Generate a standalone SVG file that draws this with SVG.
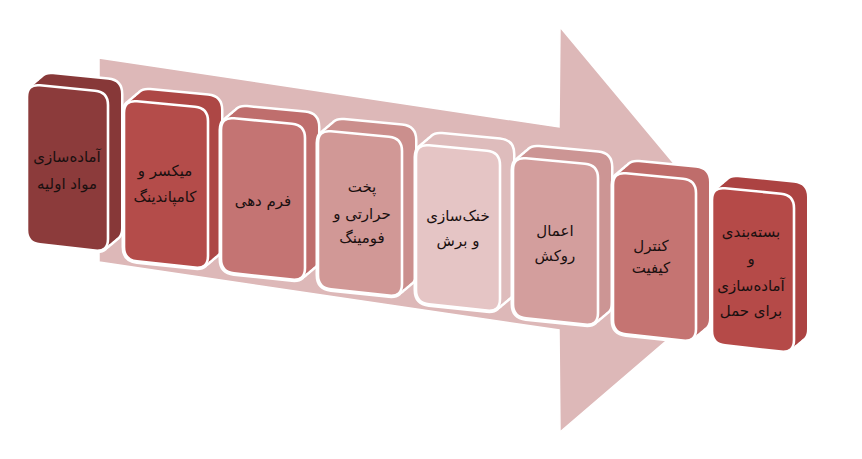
<svg xmlns="http://www.w3.org/2000/svg" xmlns:xlink="http://www.w3.org/1999/xlink" width="862" height="459" viewBox="0 0 862 459">
<style>
.ol{fill:#fff;stroke:#fff;stroke-width:5;stroke-linejoin:round}
.fc{stroke:#fff;stroke-width:2.6}
.lbl{font-family:"DejaVu Sans",sans-serif;font-size:15px;fill:#1a1010;text-anchor:middle;direction:rtl}
</style>
<defs>
<path id="f1" d="M27,97 Q27,84 40,85.3 L95,90.7 Q108,92 108,105 L108,239 Q108,252 95,250.6 L40,244.4 Q27,243 27,230 Z"/>
<path id="f2" d="M124,113 Q124,100 137,101.3 L195,106.7 Q208,108 208,121 L208,256 Q208,269 195,267.6 L137,261.4 Q124,260 124,247 Z"/>
<path id="f3" d="M221,130 Q221,117 234,118.3 L292,123.7 Q305,125 305,138 L305,268 Q305,281 292,279.6 L234,273.4 Q221,272 221,259 Z"/>
<path id="f4" d="M318,143 Q318,130 331,131.3 L389,136.7 Q402,138 402,151 L402,284 Q402,297 389,295.6 L331,289.4 Q318,288 318,275 Z"/>
<path id="f5" d="M416,157 Q416,144 429,145.3 L487,150.7 Q500,152 500,165 L500,299 Q500,312 487,310.6 L429,304.4 Q416,303 416,290 Z"/>
<path id="f6" d="M513,170 Q513,157 526,158.3 L585,163.7 Q598,165 598,178 L598,313 Q598,326 585,324.6 L526,318.4 Q513,317 513,304 Z"/>
<path id="f7" d="M613,185 Q613,172 626,173.3 L683,178.7 Q696,180 696,193 L696,329 Q696,342 683,340.6 L626,334.4 Q613,333 613,320 Z"/>
<path id="f8" d="M712,200 Q712,187 725,188.3 L781,193.7 Q794,195 794,208 L794,340 Q794,353 781,351.6 L725,345.4 Q712,344 712,331 Z"/>
</defs>

<g id="arrow">
<polygon points="99,58 559,127 560,27 757,263 560,432 559,330 99,262" fill="#DDB8B8" stroke="#fff" stroke-width="1.5" stroke-linejoin="miter"/>
</g>

<g id="connectors"></g>

<g id="node1">
<g class="ol"><use xlink:href="#f1"/><use xlink:href="#f1" transform="translate(3.25,-2.75)"/><use xlink:href="#f1" transform="translate(6.5,-5.5)"/><use xlink:href="#f1" transform="translate(9.75,-8.25)"/><use xlink:href="#f1" transform="translate(13,-11)"/></g>
<g fill="#873838"><use xlink:href="#f1" transform="translate(3.25,-2.75)"/><use xlink:href="#f1" transform="translate(6.5,-5.5)"/><use xlink:href="#f1" transform="translate(9.75,-8.25)"/><use xlink:href="#f1" transform="translate(13,-11)"/></g>
<use xlink:href="#f1" class="fc" fill="#8C3B3B"/>
<text class="lbl" x="67" y="162">آماده‌سازی</text>
<text class="lbl" x="67" y="189">مواد اولیه</text>
</g>

<g id="node2">
<g class="ol"><use xlink:href="#f2"/><use xlink:href="#f2" transform="translate(3.25,-2.75)"/><use xlink:href="#f2" transform="translate(6.5,-5.5)"/><use xlink:href="#f2" transform="translate(9.75,-8.25)"/><use xlink:href="#f2" transform="translate(13,-11)"/></g>
<g fill="#AD4745"><use xlink:href="#f2" transform="translate(3.25,-2.75)"/><use xlink:href="#f2" transform="translate(6.5,-5.5)"/><use xlink:href="#f2" transform="translate(9.75,-8.25)"/><use xlink:href="#f2" transform="translate(13,-11)"/></g>
<use xlink:href="#f2" class="fc" fill="#B44C4A"/>
<text class="lbl" x="165" y="176">میکسر و</text>
<text class="lbl" x="165" y="202">کامپاندینگ</text>
</g>

<g id="node3">
<g class="ol"><use xlink:href="#f3"/><use xlink:href="#f3" transform="translate(3.25,-2.75)"/><use xlink:href="#f3" transform="translate(6.5,-5.5)"/><use xlink:href="#f3" transform="translate(9.75,-8.25)"/><use xlink:href="#f3" transform="translate(13,-11)"/></g>
<g fill="#BF6E6D"><use xlink:href="#f3" transform="translate(3.25,-2.75)"/><use xlink:href="#f3" transform="translate(6.5,-5.5)"/><use xlink:href="#f3" transform="translate(9.75,-8.25)"/><use xlink:href="#f3" transform="translate(13,-11)"/></g>
<use xlink:href="#f3" class="fc" fill="#C47473"/>
<text class="lbl" x="263" y="206">فرم دهی</text>
</g>

<g id="node4">
<g class="ol"><use xlink:href="#f4"/><use xlink:href="#f4" transform="translate(3.25,-2.75)"/><use xlink:href="#f4" transform="translate(6.5,-5.5)"/><use xlink:href="#f4" transform="translate(9.75,-8.25)"/><use xlink:href="#f4" transform="translate(13,-11)"/></g>
<g fill="#CB8F8D"><use xlink:href="#f4" transform="translate(3.25,-2.75)"/><use xlink:href="#f4" transform="translate(6.5,-5.5)"/><use xlink:href="#f4" transform="translate(9.75,-8.25)"/><use xlink:href="#f4" transform="translate(13,-11)"/></g>
<use xlink:href="#f4" class="fc" fill="#D19896"/>
<text class="lbl" x="362" y="192">پخت</text>
<text class="lbl" x="362" y="219">حرارتی و</text>
<text class="lbl" x="362" y="243">فومینگ</text>
</g>

<g id="node5">
<g class="ol"><use xlink:href="#f5"/><use xlink:href="#f5" transform="translate(3.25,-2.75)"/><use xlink:href="#f5" transform="translate(6.5,-5.5)"/><use xlink:href="#f5" transform="translate(9.75,-8.25)"/><use xlink:href="#f5" transform="translate(13,-11)"/></g>
<g fill="#DEBCBC"><use xlink:href="#f5" transform="translate(3.25,-2.75)"/><use xlink:href="#f5" transform="translate(6.5,-5.5)"/><use xlink:href="#f5" transform="translate(9.75,-8.25)"/><use xlink:href="#f5" transform="translate(13,-11)"/></g>
<use xlink:href="#f5" class="fc" fill="#E5C5C5"/>
<text class="lbl" x="458" y="221">خنک‌سازی</text>
<text class="lbl" x="458" y="246">و برش</text>
</g>

<g id="node6">
<g class="ol"><use xlink:href="#f6"/><use xlink:href="#f6" transform="translate(3.25,-2.75)"/><use xlink:href="#f6" transform="translate(6.5,-5.5)"/><use xlink:href="#f6" transform="translate(9.75,-8.25)"/><use xlink:href="#f6" transform="translate(13,-11)"/></g>
<g fill="#CC9594"><use xlink:href="#f6" transform="translate(3.25,-2.75)"/><use xlink:href="#f6" transform="translate(6.5,-5.5)"/><use xlink:href="#f6" transform="translate(9.75,-8.25)"/><use xlink:href="#f6" transform="translate(13,-11)"/></g>
<use xlink:href="#f6" class="fc" fill="#D39E9D"/>
<text class="lbl" x="555" y="236">اعمال</text>
<text class="lbl" x="555" y="261">روکش</text>
</g>

<g id="node7">
<g class="ol"><use xlink:href="#f7"/><use xlink:href="#f7" transform="translate(3.25,-2.75)"/><use xlink:href="#f7" transform="translate(6.5,-5.5)"/><use xlink:href="#f7" transform="translate(9.75,-8.25)"/><use xlink:href="#f7" transform="translate(13,-11)"/></g>
<g fill="#BF6D6B"><use xlink:href="#f7" transform="translate(3.25,-2.75)"/><use xlink:href="#f7" transform="translate(6.5,-5.5)"/><use xlink:href="#f7" transform="translate(9.75,-8.25)"/><use xlink:href="#f7" transform="translate(13,-11)"/></g>
<use xlink:href="#f7" class="fc" fill="#C57472"/>
<text class="lbl" x="651" y="251">کنترل</text>
<text class="lbl" x="651" y="273">کیفیت</text>
</g>

<g id="node8">
<g class="ol"><use xlink:href="#f8"/><use xlink:href="#f8" transform="translate(3.25,-2.75)"/><use xlink:href="#f8" transform="translate(6.5,-5.5)"/><use xlink:href="#f8" transform="translate(9.75,-8.25)"/><use xlink:href="#f8" transform="translate(13,-11)"/></g>
<g fill="#AC4342"><use xlink:href="#f8" transform="translate(3.25,-2.75)"/><use xlink:href="#f8" transform="translate(6.5,-5.5)"/><use xlink:href="#f8" transform="translate(9.75,-8.25)"/><use xlink:href="#f8" transform="translate(13,-11)"/></g>
<use xlink:href="#f8" class="fc" fill="#B54A48"/>
<text class="lbl" x="751" y="237">بسته‌بندی</text>
<text class="lbl" x="751" y="264">و</text>
<text class="lbl" x="751" y="291">آماده‌سازی</text>
<text class="lbl" x="751" y="316">برای حمل</text>
</g>
</svg>
